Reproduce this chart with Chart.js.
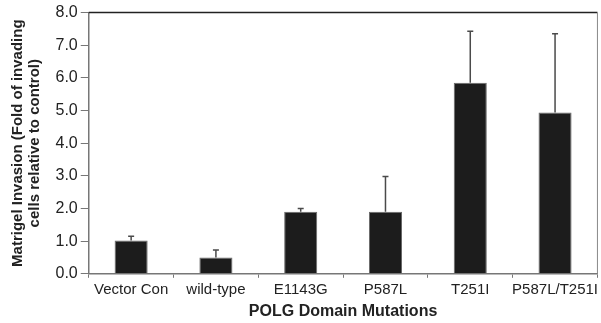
<!DOCTYPE html>
<html>
<head>
<meta charset="utf-8">
<script src="https://cdn.jsdelivr.net/npm/chart.js@4/dist/chart.umd.min.js"></script>
<style>
  html, body { margin: 0; padding: 0; background: #fff; }
  #wrap { width: 601px; height: 323px; }
</style>
</head>
<body>
<div id="wrap"><canvas id="invasion-chart" width="601" height="323"></canvas></div>
<script>
const categories = ['Vector Con', 'wild-type', 'E1143G', 'P587L', 'T251I', 'P587L/T251I'];
const invasionFold = [1.02, 0.5, 1.9, 1.9, 5.85, 4.94];
const errorUp = [0.13, 0.23, 0.1, 1.08, 1.58, 2.41];
const yTicks = [0, 1, 2, 3, 4, 5, 6, 7, 8];

const fontFamily = '"Liberation Sans", Arial, sans-serif';

// simple upward error bars, drawn from the y scale
const errorBars = {
  id: 'errorBars',
  afterDatasetsDraw(chart) {
    const ctx = chart.ctx;
    const meta = chart.getDatasetMeta(0);
    const y = chart.scales.y;
    ctx.save();
    ctx.strokeStyle = '#4a4a4a';
    ctx.lineWidth = 1.5;
    meta.data.forEach((bar, i) => {
      const top = y.getPixelForValue(invasionFold[i] + errorUp[i]);
      const base = y.getPixelForValue(invasionFold[i]);
      ctx.beginPath();
      ctx.moveTo(bar.x, base);
      ctx.lineTo(bar.x, top);
      ctx.moveTo(bar.x - 3, top);
      ctx.lineTo(bar.x + 3, top);
      ctx.stroke();
    });
    ctx.restore();
  }
};

// top and right frame lines of the plot box
const plotFrame = {
  id: 'plotFrame',
  afterDraw(chart) {
    const a = chart.chartArea;
    const ctx = chart.ctx;
    ctx.save();
    ctx.lineWidth = 1.5;
    ctx.strokeStyle = '#222';
    ctx.beginPath();
    ctx.moveTo(a.left, a.top);
    ctx.lineTo(a.right, a.top);
    ctx.stroke();
    ctx.strokeStyle = '#888';
    ctx.lineWidth = 1;
    ctx.beginPath();
    ctx.moveTo(a.right, a.top);
    ctx.lineTo(a.right, a.bottom);
    ctx.stroke();
    ctx.restore();
  }
};

const ctx = document.getElementById('invasion-chart').getContext('2d');
new Chart(ctx, {
  type: 'bar',
  data: {
    labels: categories,
    datasets: [{
      data: invasionFold,
      backgroundColor: '#1c1c1c',
      borderColor: '#6a6a6a',
      borderWidth: 1,
      barPercentage: 0.39,
      categoryPercentage: 1
    }]
  },
  options: {
    responsive: false,
    animation: false,
    layout: { padding: { left: 9, right: 0, top: 12, bottom: 2 } },
    plugins: {
      legend: { display: false },
      tooltip: { enabled: false }
    },
    scales: {
      x: {
        offset: true,
        grid: {
          offset: true,
          drawOnChartArea: false,
          drawTicks: true,
          tickLength: 4,
          color: '#777'
        },
        border: { color: '#777', width: 1.5 },
        ticks: {
          color: '#222',
          maxRotation: 0,
          autoSkip: false,
          padding: 3,
          font: { family: fontFamily, size: 15 }
        },
        title: {
          display: true,
          text: 'POLG Domain Mutations',
          color: '#222',
          padding: { top: 0, bottom: 0 },
          font: { family: fontFamily, size: 16, weight: 'bold' }
        }
      },
      y: {
        min: 0,
        max: 8,
        afterBuildTicks(scale) {
          scale.ticks = yTicks.map(v => ({ value: v }));
        },
        grid: {
          drawOnChartArea: false,
          drawTicks: true,
          tickLength: 8,
          color: '#777'
        },
        border: { color: '#777', width: 1.5 },
        ticks: {
          color: '#222',
          padding: 3,
          font: { family: fontFamily, size: 16 },
          callback: v => Number(v).toFixed(1)
        },
        title: {
          display: true,
          text: ['Matrigel Invasion (Fold of invading', 'cells relative to control)'],
          color: '#222',
          padding: { top: 0, bottom: 9 },
          font: { family: fontFamily, size: 15, weight: 'bold', lineHeight: 1.15 }
        }
      }
    }
  },
  plugins: [errorBars, plotFrame]
});
</script>
</body>
</html>
